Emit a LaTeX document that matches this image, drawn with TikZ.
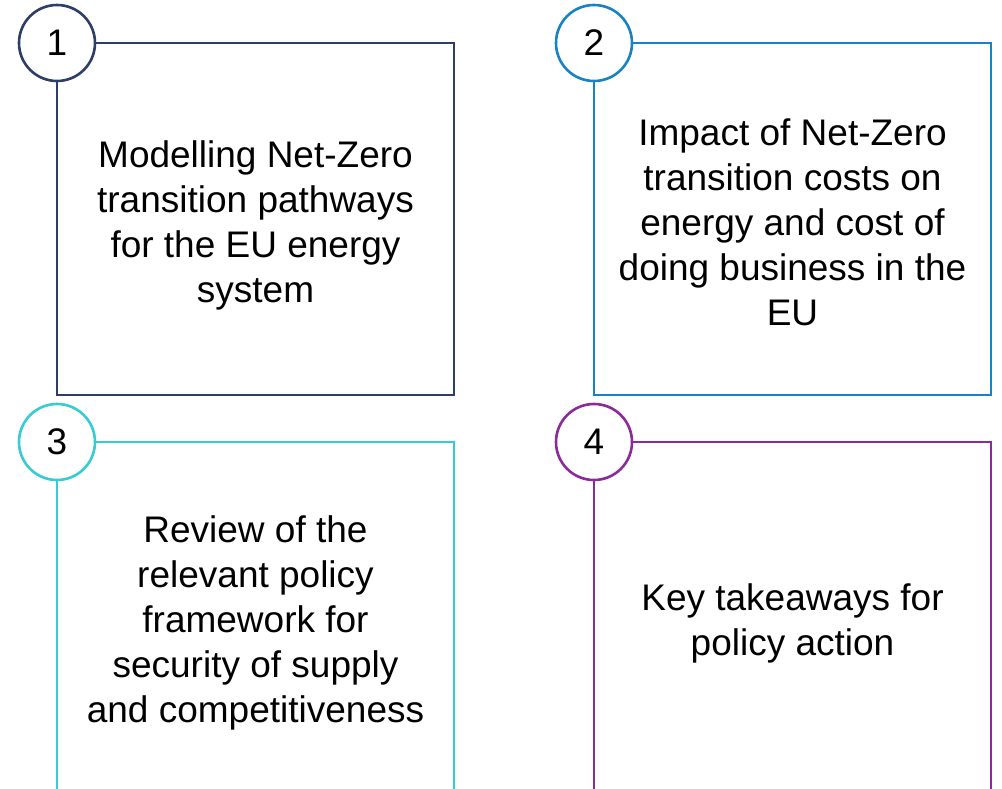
\documentclass[tikz,border=0pt]{standalone}
\usepackage{fontspec}
\setmainfont{Liberation Sans}
\definecolor{navyline}{HTML}{2D3F67}
\definecolor{blueline}{HTML}{1883C4}
\definecolor{cyanline}{HTML}{36CCD4}
\definecolor{purpleline}{HTML}{8C2A9B}
\begin{document}
\begin{tikzpicture}[x=1bp,y=-1bp,
  panel/.style={draw=#1, line width=2.6bp, minimum width=397bp, minimum height=352bp,
    anchor=north west, inner sep=0pt, outer sep=0pt},
  badge/.style={circle, draw=#1, line width=2.6bp, fill=white, minimum size=76bp,
    inner sep=0pt, font=\fontsize{37bp}{45bp}\selectfont},
  caption/.style={align=center, inner sep=0pt, font=\fontsize{37bp}{45bp}\selectfont}]
\useasboundingbox (0,0) rectangle (1002,789);
\clip (0,0) rectangle (1002,789);

% panel frames
\node[panel=navyline]   (p1) at (57,43)  {};
\node[panel=blueline]   (p2) at (594,43) {};
\node[panel=cyanline]   (p3) at (57,442) {};
\node[panel=purpleline] (p4) at (594,442) {};

% numbered badges on the top-left corners
\node[badge=navyline]   (n1) at (p1.north west) {1};
\node[badge=blueline]   (n2) at (p2.north west) {2};
\node[badge=cyanline]   (n3) at (p3.north west) {3};
\node[badge=purpleline] (n4) at (p4.north west) {4};

% panel texts
\node[caption] (t1) at ([yshift=-6bp]p1.center) {Modelling Net-Zero\\transition pathways\\for the EU energy\\system};
\node[caption] (t2) at ([yshift=-3bp]p2.center) {Impact of Net-Zero\\transition costs on\\energy and cost of\\doing business in the\\EU};
\node[caption] (t3) at ([yshift=-5bp]p3.center) {Review of the\\relevant policy\\framework for\\security of supply\\and competitiveness};
\node[caption] (t4) at ([yshift=-5bp]p4.center) {Key takeaways for\\policy action};
\end{tikzpicture}
\end{document}
